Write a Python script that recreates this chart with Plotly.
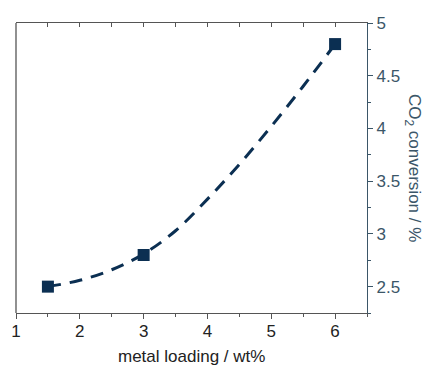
import plotly.graph_objects as go

loading = [1.5, 3, 6]
conversion = [2.5, 2.8, 4.8]
fit_x = [1.5, 2.0, 2.5, 3.0, 3.5, 4.0, 4.5, 5.0, 5.5, 6.0]
fit_y = [2.5, 2.56, 2.66, 2.81, 3.03, 3.33, 3.66, 4.02, 4.4, 4.8]

navy = "#0b2f52"
slate = "#3b5668"
frame = "#555555"
font = "Liberation Sans, Arial, sans-serif"

fig = go.Figure()
fig.add_trace(go.Scatter(x=fit_x, y=fit_y, mode="lines", line=dict(color=navy, width=3, dash="13px,9px", shape="spline"),
                         showlegend=False, hoverinfo="skip"))
fig.add_trace(go.Scatter(x=loading, y=conversion, mode="markers",
                         marker=dict(symbol="square", size=12, color=navy), showlegend=False))
# dummy trace for top axis
fig.add_trace(go.Scatter(x=[None], y=[None], xaxis="x2", showlegend=False))

fig.update_layout(
    width=425, height=367,
    margin=dict(l=16, r=58, t=23, b=54, autoexpand=False),
    paper_bgcolor="white", plot_bgcolor="white",
    font=dict(family=font, size=17, color="#222222"),
    xaxis=dict(range=[1, 6.5], dtick=1, tick0=1, ticks="outside", ticklen=5, tickcolor=frame,
               showline=True, linecolor=frame, linewidth=1.3, mirror=True, showgrid=False, zeroline=False,
               minor=dict(dtick=0.5, ticks="outside", ticklen=3, tickcolor=frame),
               ticklabelstandoff=-3, automargin=False,
               tickfont=dict(size=17, color="#222222")),
    xaxis2=dict(range=[1, 6.5], overlaying="x", side="top", dtick=0.5, tick0=1, ticks="inside", ticklen=4,
                tickcolor=frame, showticklabels=False, showgrid=False, zeroline=False, showline=False),
    yaxis=dict(range=[2.25, 5], side="right", dtick=0.5, tick0=2.5, ticks="outside", ticklen=5, tickcolor=slate,
               showline=True, linecolor=slate, linewidth=1.3, showgrid=False, zeroline=False,
               minor=dict(dtick=0.25, ticks="outside", ticklen=3, tickcolor=slate), automargin=False,
               tickfont=dict(size=17, color=slate)),
    shapes=[dict(type="line", xref="paper", yref="paper", x0=0, x1=0, y0=0, y1=1,
                 line=dict(color=frame, width=1.3))],
    annotations=[
        dict(text="CO<sub>2</sub> conversion / %", xref="paper", yref="paper", x=1.0, xshift=46,
             y=0.5, textangle=90, showarrow=False, font=dict(size=17, color=slate),
             xanchor="center", yanchor="middle"),
        dict(text="metal loading / wt%", xref="paper", yref="paper", x=0.5, y=0, yshift=-43,
             showarrow=False, font=dict(size=17, color="#222222"), xanchor="center", yanchor="middle"),
    ],
)

fig.write_html("out.html")
